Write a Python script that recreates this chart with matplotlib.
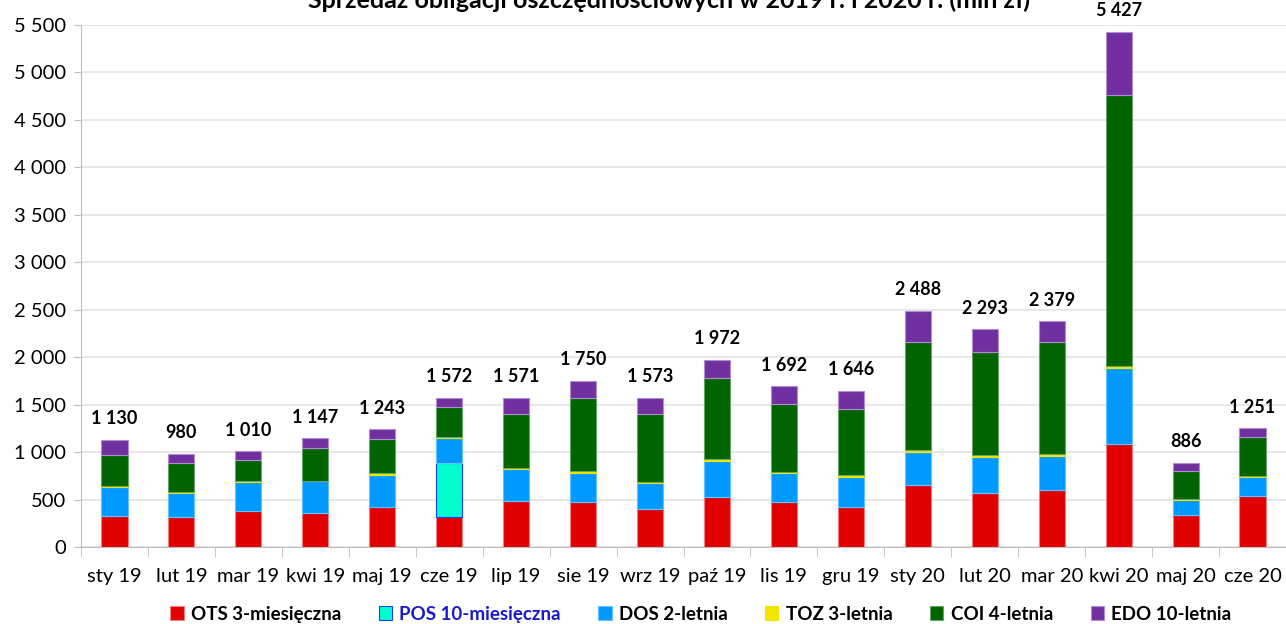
import matplotlib.pyplot as plt
import numpy as np

months = ["sty 19", "lut 19", "mar 19", "kwi 19", "maj 19", "cze 19",
          "lip 19", "sie 19", "wrz 19", "paź 19", "lis 19", "gru 19",
          "sty 20", "lut 20", "mar 20", "kwi 20", "maj 20", "cze 20"]

ots = [330, 320, 383, 358, 425, 316, 488, 474, 404, 527, 474, 425, 654, 570, 601, 1081, 332, 538]
pos = [0, 0, 0, 0, 0, 566, 0, 0, 0, 0, 0, 0, 0, 0, 0, 0, 0, 0]
dos = [300, 250, 298, 335, 330, 270, 337, 309, 274, 382, 303, 316, 351, 382, 355, 809, 164, 200]
toz = [8, 12, 10, 7, 21, 10, 12, 18, 10, 21, 12, 15, 17, 21, 21, 20, 14, 14]
coi = [330, 300, 225, 340, 357, 310, 568, 773, 711, 849, 722, 695, 1141, 1085, 1180, 2852, 291, 405]
edo = [162, 98, 94, 107, 110, 100, 166, 176, 174, 193, 181, 195, 325, 235, 222, 665, 85, 94]
totals = [1130, 980, 1010, 1147, 1243, 1572, 1571, 1750, 1573, 1972, 1692, 1646,
          2488, 2293, 2379, 5427, 886, 1251]

series = [
    ("OTS 3-miesięczna", ots, "#e00000", "#f08080"),
    ("POS 10-miesięczna", pos, "#00ffcc", "#1a3cff"),
    ("DOS 2-letnia", dos, "#0099ff", "#66c2ff"),
    ("TOZ 3-letnia", toz, "#f2e600", "#f2e600"),
    ("COI 4-letnia", coi, "#006400", "#66a366"),
    ("EDO 10-letnia", edo, "#7030a0", "#b48cd0"),
]

plt.rcParams["font.family"] = ["Lato", "DejaVu Sans"]


def fmt(v):
    return f"{int(v):,}".replace(",", " ")


fig = plt.figure(figsize=(12.86, 6.24), dpi=100)
ax = fig.add_axes([0.063, 0.1234, 0.937, 0.8366])

x = np.arange(len(months))
bottom = np.zeros(len(months))
for name, vals, color, edge in series:
    vals = np.array(vals, dtype=float)
    ax.bar(x, vals, width=0.39, bottom=bottom, color=color, edgecolor=edge,
           linewidth=0.8, label=name, zorder=3)
    bottom += vals

# totals above each bar
for xi, top, tot in zip(x, bottom, totals):
    ax.annotate(fmt(tot), (xi, top), xytext=(0, 9), textcoords="offset points",
                ha="center", va="bottom", fontsize=13, fontweight="bold")

ax.set_xlim(-0.5, len(months) - 0.5)
ax.set_ylim(0, 5500)
ax.set_yticks(np.arange(0, 5501, 500))
ax.set_yticklabels([fmt(v) for v in np.arange(0, 5501, 500)], fontsize=14.5)
ax.set_xticks(x)
ax.set_xticklabels(months, fontsize=14.5)
ax.set_xticks(np.arange(-0.5, len(months), 1), minor=True)
ax.tick_params(axis="x", which="major", length=0, pad=15)
ax.tick_params(axis="x", which="minor", length=7, color="#bfbfbf")
ax.tick_params(axis="y", length=5, color="#bfbfbf", pad=6)
ax.grid(axis="y", color="#e3e3e3", linewidth=1.2, zorder=0)
for side in ["top", "right"]:
    ax.spines[side].set_visible(False)
for side in ["left", "bottom"]:
    ax.spines[side].set_color("#bfbfbf")

leg = fig.legend(loc="center", bbox_to_anchor=(0.545, 0.016), ncol=6, frameon=False,
                 prop={"size": 13.5, "weight": "bold"}, handlelength=0.7,
                 handleheight=0.7, handletextpad=0.4, columnspacing=2.0)
for text in leg.get_texts():
    if text.get_text().startswith("POS"):
        text.set_color("#1a1acc")

# title sits partly above the top edge, as in the source image
fig.text(0.52, 1 - 8 / 624, "Sprzedaż obligacji oszczędnościowych w 2019 r. i 2020 r. (mln zł)",
         ha="center", va="baseline", fontsize=18, fontweight="bold")

fig.savefig("out.png", dpi=100)
